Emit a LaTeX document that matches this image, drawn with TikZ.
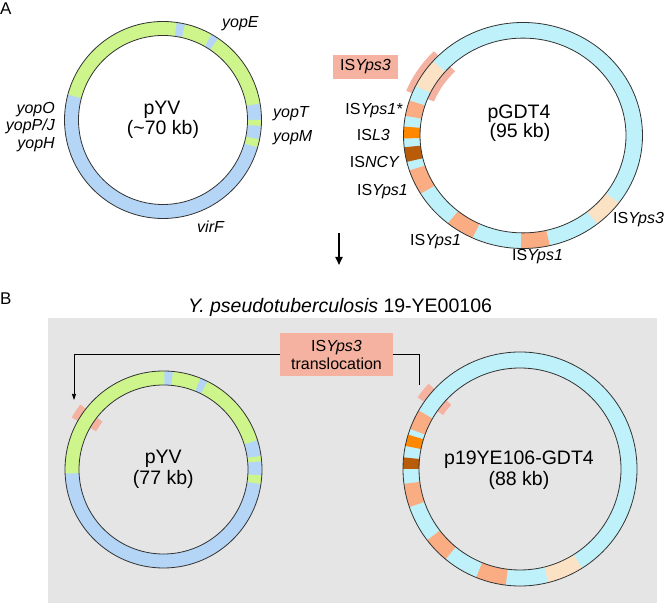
\documentclass[tikz,border=0pt]{standalone}
\usepackage{fontspec}
\setmainfont{Liberation Sans}
\usetikzlibrary{arrows.meta}
\definecolor{pyvgreen}{RGB}{206,245,140}
\definecolor{pyvblue}{RGB}{180,213,246}
\definecolor{gdtcyan}{RGB}{191,241,250}
\definecolor{peach}{RGB}{252,226,196}
\definecolor{salmon}{RGB}{250,172,130}
\definecolor{isorange}{RGB}{255,136,0}
\definecolor{isbrown}{RGB}{184,92,10}
\definecolor{hlpink}{RGB}{245,178,160}
\definecolor{panelgray}{RGB}{229,229,229}
\begin{document}
\begin{tikzpicture}[x=1pt,y=1pt]
\tikzstyle{gene} = [font=\fontsize{16}{18}\selectfont\itshape, inner sep=0pt]
\tikzstyle{islabel} = [font=\fontsize{16}{18}\selectfont, inner sep=0pt]
\tikzstyle{plname} = [font=\fontsize{19.5}{22}\selectfont, inner sep=0pt]
\tikzstyle{panel} = [font=\fontsize{17}{19}\selectfont, inner sep=0pt]
\tikzstyle{ringline} = [draw=black!80, line width=0.8pt]
\tikzstyle{grn} = [fill=pyvgreen]
\tikzstyle{ps1} = [fill=salmon]
\tikzstyle{ps3} = [fill=peach]

\useasboundingbox (0,0) rectangle (666,604);
\fill[panelgray] (48,1) rectangle (657,286);

\node[panel, anchor=base west] (labA) at (0,589) {A};
\node[panel, anchor=base west] (labB) at (0,299) {B};

% pYV, panel A
\begin{scope}[shift={(163,484)}]
\fill[pyvblue, even odd rule] (0,0) circle[radius=98.5] (0,0) circle[radius=84.5];
\fill[grn] (82:98.5) arc[start angle=82,end angle=165,radius=98.5] -- (165:84.5) arc[start angle=165,end angle=82,radius=84.5] -- cycle;
\fill[grn] (60.5:98.5) arc[start angle=60.5,end angle=77,radius=98.5] -- (77:84.5) arc[start angle=77,end angle=60.5,radius=84.5] -- cycle;
\fill[grn] (9.7:98.5) arc[start angle=9.7,end angle=56,radius=98.5] -- (56:84.5) arc[start angle=56,end angle=9.7,radius=84.5] -- cycle;
\fill[grn] (-3.5:98.5) arc[start angle=-3.5,end angle=0,radius=98.5] -- (0:84.5) arc[start angle=0,end angle=-3.5,radius=84.5] -- cycle;
\fill[grn] (-16.1:98.5) arc[start angle=-16.1,end angle=-11.4,radius=98.5] -- (-11.4:84.5) arc[start angle=-11.4,end angle=-16.1,radius=84.5] -- cycle;
\draw[ringline] (0,0) circle[radius=98.5] (0,0) circle[radius=84.5];
\end{scope}

\node[plname, anchor=base] (pyvA) at (162,489) {pYV};
\node[plname, anchor=base] (pyvAkb) at (163,469) {(\char`\~70 kb)};
\node[gene, anchor=base west] (yopE) at (222,576) {yopE};
\node[gene, anchor=base west] (yopT) at (273,486) {yopT};
\node[gene, anchor=base west] (yopM) at (273,462.5) {yopM};
\node[gene, anchor=base east] (yopO) at (55,490) {yopO};
\node[gene, anchor=base east] (yopPJ) at (55,473) {yopP/J};
\node[gene, anchor=base east] (yopH) at (55,455) {yopH};
\node[gene, anchor=base west] (virF) at (197,371) {virF};

% pGDT4, panel A
\begin{scope}[shift={(523,468.5)}, yscale=0.9456]
\fill[hlpink] (135:126) arc[start angle=135,end angle=158,radius=126] -- (158:96) arc[start angle=158,end angle=135,radius=96] -- cycle;
\fill[gdtcyan, even odd rule] (0,0) circle[radius=119.5] (0,0) circle[radius=103];
\fill[ps3] (139:119.5) arc[start angle=139,end angle=154,radius=119.5] -- (154:103) arc[start angle=154,end angle=139,radius=103] -- cycle;
\fill[ps1] (162:119.5) arc[start angle=162,end angle=170,radius=119.5] -- (170:103) arc[start angle=170,end angle=162,radius=103] -- cycle;
\fill[isorange] (175.5:119.5) arc[start angle=175.5,end angle=181.5,radius=119.5] -- (181.5:103) arc[start angle=181.5,end angle=175.5,radius=103] -- cycle;
\fill[isbrown] (186:119.5) arc[start angle=186,end angle=193.5,radius=119.5] -- (193.5:103) arc[start angle=193.5,end angle=186,radius=103] -- cycle;
\fill[ps1] (198:119.5) arc[start angle=198,end angle=211,radius=119.5] -- (211:103) arc[start angle=211,end angle=198,radius=103] -- cycle;
\fill[ps1] (231:119.5) arc[start angle=231,end angle=245,radius=119.5] -- (245:103) arc[start angle=245,end angle=231,radius=103] -- cycle;
\fill[ps1] (269:119.5) arc[start angle=269,end angle=283,radius=119.5] -- (283:103) arc[start angle=283,end angle=269,radius=103] -- cycle;
\fill[ps3] (308.5:119.5) arc[start angle=308.5,end angle=323.5,radius=119.5] -- (323.5:103) arc[start angle=323.5,end angle=308.5,radius=103] -- cycle;
\draw[ringline] (0,0) circle[radius=119.5] (0,0) circle[radius=103];
\end{scope}

\node[plname, anchor=base] (gdt) at (519,485) {pGDT4};
\node[plname, anchor=base] (gdtkb) at (520,466) {(95 kb)};
\node[islabel, fill=hlpink, minimum width=65pt, minimum height=24pt] (ps3box) at (365.5,537) {IS\textit{Yps3}};
\node[islabel, anchor=base east] (ps1star) at (403,489.7) {IS\textit{Yps1*}};
\node[islabel, anchor=base east] (isl3) at (390,463) {IS\textit{L3}};
\node[islabel, anchor=base east] (isncy) at (400,436) {IS\textit{NCY}};
\node[islabel, anchor=base east] (ps1a) at (408,408) {IS\textit{Yps1}};
\node[islabel, anchor=base west] (ps1b) at (410,358) {IS\textit{Yps1}};
\node[islabel, anchor=base west] (ps1c) at (512,343) {IS\textit{Yps1}};
\node[islabel, anchor=base west] (ps3r) at (613,380) {IS\textit{Yps3}};

\coordinate (arrtop) at (339,371);
\coordinate (arrbot) at (339,339);
\draw[line width=1.8pt, -{Triangle[length=8pt,width=7pt]}] (arrtop) -- (arrbot);

% panel B
\node[plname, anchor=base] (strain) at (340,291) {\textit{Y. pseudotuberculosis} 19-YE00106};

\begin{scope}[shift={(163.5,134.5)}]
\fill[hlpink] (142:105.5) arc[start angle=142,end angle=150.5,radius=105.5] -- (150.5:77.5) arc[start angle=150.5,end angle=142,radius=77.5] -- cycle;
\fill[pyvblue, even odd rule] (0,0) circle[radius=98.5] (0,0) circle[radius=84.5];
\fill[grn] (89.5:98.5) arc[start angle=89.5,end angle=182.4,radius=98.5] -- (182.4:84.5) arc[start angle=182.4,end angle=89.5,radius=84.5] -- cycle;
\fill[grn] (68:98.5) arc[start angle=68,end angle=84.5,radius=98.5] -- (84.5:84.5) arc[start angle=84.5,end angle=68,radius=84.5] -- cycle;
\fill[grn] (17.4:98.5) arc[start angle=17.4,end angle=63.5,radius=98.5] -- (63.5:84.5) arc[start angle=63.5,end angle=17.4,radius=84.5] -- cycle;
\fill[grn] (4.8:98.5) arc[start angle=4.8,end angle=7.9,radius=98.5] -- (7.9:84.5) arc[start angle=7.9,end angle=4.8,radius=84.5] -- cycle;
\fill[grn] (-8.5:98.5) arc[start angle=-8.5,end angle=-3.4,radius=98.5] -- (-3.4:84.5) arc[start angle=-3.4,end angle=-8.5,radius=84.5] -- cycle;
\draw[ringline] (0,0) circle[radius=98.5] (0,0) circle[radius=84.5];
\end{scope}

\node[plname, anchor=base] (pyvB) at (163.3,140) {pYV};
\node[plname, anchor=base] (pyvBkb) at (163.3,119) {(77 kb)};

\begin{scope}[shift={(520,135)}]
\fill[hlpink] (137:125) arc[start angle=137,end angle=145,radius=125] -- (145:94) arc[start angle=145,end angle=137,radius=94] -- cycle;
\fill[gdtcyan, even odd rule] (0,0) circle[radius=117] (0,0) circle[radius=101];
\fill[ps1] (150:117) arc[start angle=150,end angle=160,radius=117] -- (160:101) arc[start angle=160,end angle=150,radius=101] -- cycle;
\fill[isorange] (162.9:117) arc[start angle=162.9,end angle=168.6,radius=117] -- (168.6:101) arc[start angle=168.6,end angle=162.9,radius=101] -- cycle;
\fill[isbrown] (174.3:117) arc[start angle=174.3,end angle=180,radius=117] -- (180:101) arc[start angle=180,end angle=174.3,radius=101] -- cycle;
\fill[ps1] (187.3:117) arc[start angle=187.3,end angle=199,radius=117] -- (199:101) arc[start angle=199,end angle=187.3,radius=101] -- cycle;
\fill[ps1] (217.5:117) arc[start angle=217.5,end angle=230.5,radius=117] -- (230.5:101) arc[start angle=230.5,end angle=217.5,radius=101] -- cycle;
\fill[ps1] (248:117) arc[start angle=248,end angle=263,radius=117] -- (263:101) arc[start angle=263,end angle=248,radius=101] -- cycle;
\fill[ps3] (284:117) arc[start angle=284,end angle=302,radius=117] -- (302:101) arc[start angle=302,end angle=284,radius=101] -- cycle;
\draw[ringline] (0,0) circle[radius=117] (0,0) circle[radius=101];
\end{scope}

\node[plname, anchor=base] (gdtB) at (519,139) {p19YE106-GDT4};
\node[plname, anchor=base] (gdtBkb) at (519,118) {(88 kb)};

\node[islabel, fill=hlpink, align=center, minimum width=113pt, minimum height=43pt] (trans) at (336.5,249.5) {IS\textit{Yps3}\\translocation};
\coordinate (tipL) at (74,204);
\coordinate (tipR) at (419.3,219);
\draw[line width=0.7pt, -{Triangle[length=6pt,width=4pt]}] (trans.west) -| (tipL);
\draw[line width=0.7pt] (trans.east) -| (tipR);

\end{tikzpicture}
\end{document}
